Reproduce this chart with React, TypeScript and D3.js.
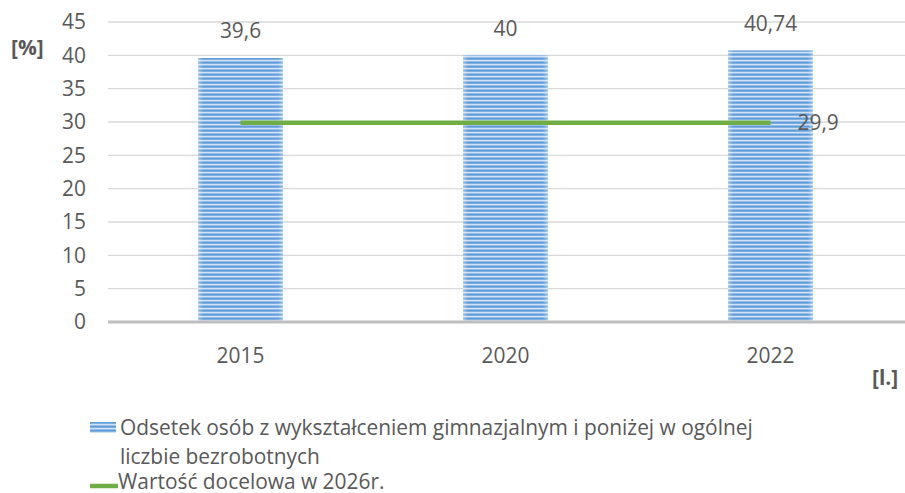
import React from "react";
import * as d3 from "d3";

const categories = ["2015", "2020", "2022"];
const barValues = [39.6, 40, 40.74];
const barLabels = ["39,6", "40", "40,74"];
const targetValues = [29.9, 29.9, 29.9];
const targetLabel = "29,9";
const yTicks = [0, 5, 10, 15, 20, 25, 30, 35, 40, 45];
const legendBar = ["Odsetek osób z wykształceniem gimnazjalnym i poniżej w ogólnej", "liczbie bezrobotnych"];
const legendLine = "Wartość docelowa w 2026r.";

const W = 905;
const H = 493;
const left = 108;
const right = 903;
const top = 22;
const bottom = 322;
const font = "'Open Sans', sans-serif";
const fs = 20.9;
const textColor = "#595959";

export default function App() {
  const x = d3.scaleBand<string>().domain(categories).range([left, right]).paddingInner(0.68).paddingOuter(0.34);
  const y = d3.scaleLinear().domain([0, 45]).range([bottom, top]);
  const cx = (c: string) => (x(c) as number) + x.bandwidth() / 2;
  const line = d3
    .line<number>()
    .x((_, i) => cx(categories[i]))
    .y((d) => y(d));

  return (
    <svg width={W} height={H} style={{ position: "absolute", left: 0, top: 0, background: "#fff" }}>
      <defs>
        <pattern id="stripes" width="8" height="4" patternUnits="userSpaceOnUse">
          <rect width="8" height="4" fill="#cfe1f5" />
          <rect y="1.5" width="8" height="2.2" fill="#5f9bd8" />
        </pattern>
        <linearGradient id="edge" x1="0" x2="1" y1="0" y2="0">
          <stop offset="0" stopColor="#fff" stopOpacity="0.35" />
          <stop offset="0.06" stopColor="#fff" stopOpacity="0" />
          <stop offset="0.94" stopColor="#fff" stopOpacity="0" />
          <stop offset="1" stopColor="#fff" stopOpacity="0.35" />
        </linearGradient>
      </defs>
      {yTicks.map((t) =>
        t === 0 ? null : (
          <line key={t} x1={left} x2={W} y1={y(t)} y2={y(t)} stroke="#d9d9d9" strokeWidth={1.3} />
        )
      )}
      {yTicks.map((t) => (
        <text key={"l" + t} x={86} y={y(t)} dy="0.35em" textAnchor="end" fontFamily={font} fontSize={fs} fill={textColor}>
          {t}
        </text>
      ))}
      {categories.map((c, i) => (
        <g key={c}>
          <rect x={x(c)} y={y(barValues[i])} width={x.bandwidth()} height={bottom - y(barValues[i])} fill="url(#stripes)" />
          <rect x={x(c)} y={y(barValues[i])} width={x.bandwidth()} height={bottom - y(barValues[i])} fill="url(#edge)" />
          <text x={cx(c)} y={y(barValues[i]) - 27} dy="0.35em" textAnchor="middle" fontFamily={font} fontSize={fs} fill={textColor}>
            {barLabels[i]}
          </text>
          <text x={cx(c)} y={356} dy="0.35em" textAnchor="middle" fontFamily={font} fontSize={fs} fill={textColor}>
            {c}
          </text>
        </g>
      ))}
      <line x1={left} x2={W} y1={bottom} y2={bottom} stroke="#bfbfbf" strokeWidth={3} />
      <path d={line(targetValues) as string} fill="none" stroke="#70ad47" strokeWidth={4.5} />
      <text x={cx(categories[2]) + 27} y={y(targetValues[2])} dy="0.35em" fontFamily={font} fontSize={fs} fill={textColor}>
        {targetLabel}
      </text>
      <text x={11} y={48} dy="0.35em" fontFamily={font} fontSize={fs} fontWeight="bold" fill={textColor}>
        [%]
      </text>
      <text x={872} y={378} dy="0.35em" fontFamily={font} fontSize={fs} fontWeight="bold" fill={textColor}>
        [l.]
      </text>
      <rect x={90} y={422} width={26} height={11} fill="url(#stripes)" />
      <text x={120} y={428} dy="0.35em" fontFamily={font} fontSize={fs} fill={textColor}>
        {legendBar[0]}
      </text>
      <text x={120} y={457} dy="0.35em" fontFamily={font} fontSize={fs} fill={textColor}>
        {legendBar[1]}
      </text>
      <line x1={90} x2={118} y1={486} y2={486} stroke="#70ad47" strokeWidth={4.5} />
      <text x={118} y={482} dy="0.35em" fontFamily={font} fontSize={fs} fill={textColor}>
        {legendLine}
      </text>
    </svg>
  );
}
